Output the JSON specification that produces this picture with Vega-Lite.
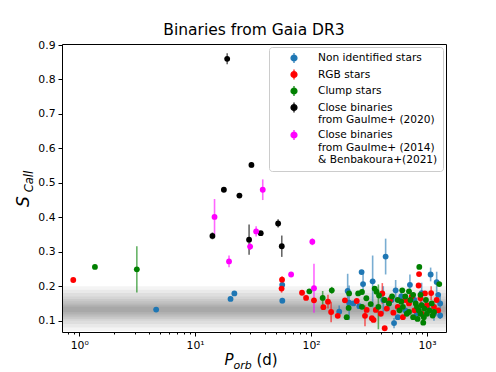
{
  "$schema": "https://vega.github.io/schema/vega-lite/v6.json",
  "width": 384,
  "height": 288,
  "autosize": {"type": "none"},
  "padding": {"left": 62, "top": 44, "right": 50, "bottom": 40},
  "background": "white",
  "title": {"text": "Binaries from Gaia DR3", "font": "DejaVu Sans", "fontSize": 15.5, "fontWeight": "normal", "color": "black", "offset": 1},
  "config": {
    "view": {"stroke": "black", "strokeWidth": 1},
    "font": "DejaVu Sans",
    "axis": {"labelFont": "DejaVu Sans", "titleFont": "DejaVu Sans", "labelColor": "black", "titleColor": "black", "tickColor": "black", "grid": false, "domain": false, "titleFontWeight": "normal"},
    "legend": {"title": null, "orient": "top-right", "offset": 3, "padding": 5, "fillColor": "white", "strokeColor": "#cccccc", "cornerRadius": 3,
      "labelFont": "DejaVu Sans", "labelFontSize": 10.6, "labelLineHeight": 13.5, "labelColor": "black", "labelLimit": 300, "rowPadding": 0.5,
      "symbolType": "M0,-1L0,1M-0.6,0A0.6,0.6,0,1,0,0.6,0A0.6,0.6,0,1,0,-0.6,0Z", "symbolSize": 100, "symbolOffset": 14, "labelOffset": 18, "symbolStrokeWidth": 1.2, "symbolOpacity": 1}
  },
  "datasets": {
    "bands": [
      {"lo": 0.07, "hi": 0.2}, {"lo": 0.08, "hi": 0.19}, {"lo": 0.09, "hi": 0.18}, {"lo": 0.1, "hi": 0.17},
      {"lo": 0.105, "hi": 0.163}, {"lo": 0.11, "hi": 0.156}, {"lo": 0.115, "hi": 0.15}, {"lo": 0.12, "hi": 0.145}, {"lo": 0.125, "hi": 0.14}
    ],
    "pts": [
      {"p": 4.61, "s": 0.132, "e": 0, "t": "N"},
      {"p": 21.8, "s": 0.179, "e": 0.006, "t": "N"},
      {"p": 20.2, "s": 0.163, "e": 0, "t": "N"},
      {"p": 56.4, "s": 0.204, "e": 0, "t": "N"},
      {"p": 56.5, "s": 0.158, "e": 0.008, "t": "N"},
      {"p": 175, "s": 0.126, "e": 0.018, "t": "N"},
      {"p": 207, "s": 0.186, "e": 0.05, "t": "N"},
      {"p": 213, "s": 0.152, "e": 0.05, "t": "N"},
      {"p": 232, "s": 0.15, "e": 0, "t": "N"},
      {"p": 273, "s": 0.241, "e": 0, "t": "N"},
      {"p": 281, "s": 0.206, "e": 0.03, "t": "N"},
      {"p": 261, "s": 0.142, "e": 0, "t": "N"},
      {"p": 340, "s": 0.214, "e": 0.075, "t": "N"},
      {"p": 440, "s": 0.286, "e": 0.052, "t": "N"},
      {"p": 1076, "s": 0.234, "e": 0.02, "t": "N"},
      {"p": 1213, "s": 0.212, "e": 0.03, "t": "N"},
      {"p": 713, "s": 0.204, "e": 0.03, "t": "N"},
      {"p": 537, "s": 0.188, "e": 0.03, "t": "N"},
      {"p": 520, "s": 0.093, "e": 0.015, "t": "N"},
      {"p": 470, "s": 0.15, "e": 0.02, "t": "N"},
      {"p": 600, "s": 0.17, "e": 0.02, "t": "N"},
      {"p": 650, "s": 0.13, "e": 0, "t": "N"},
      {"p": 780, "s": 0.16, "e": 0.015, "t": "N"},
      {"p": 900, "s": 0.18, "e": 0.03, "t": "N"},
      {"p": 1000, "s": 0.14, "e": 0, "t": "N"},
      {"p": 1150, "s": 0.12, "e": 0.02, "t": "N"},
      {"p": 1300, "s": 0.15, "e": 0.02, "t": "N"},
      {"p": 560, "s": 0.11, "e": 0, "t": "N"},
      {"p": 820, "s": 0.12, "e": 0, "t": "N"},
      {"p": 1250, "s": 0.175, "e": 0, "t": "N"},
      {"p": 1300, "s": 0.115, "e": 0.01, "t": "N"},
      {"p": 420, "s": 0.16, "e": 0.04, "t": "N"},
      {"p": 496, "s": 0.16, "e": 0, "t": "N"},
      {"p": 0.888, "s": 0.218, "e": 0, "t": "R"},
      {"p": 56.2, "s": 0.219, "e": 0.01, "t": "R"},
      {"p": 55.7, "s": 0.193, "e": 0.012, "t": "R"},
      {"p": 83.6, "s": 0.181, "e": 0, "t": "R"},
      {"p": 90.6, "s": 0.166, "e": 0, "t": "R"},
      {"p": 106, "s": 0.159, "e": 0, "t": "R"},
      {"p": 127.7, "s": 0.139, "e": 0, "t": "R"},
      {"p": 140, "s": 0.155, "e": 0.02, "t": "R"},
      {"p": 149, "s": 0.125, "e": 0.03, "t": "R"},
      {"p": 170, "s": 0.114, "e": 0, "t": "R"},
      {"p": 196, "s": 0.159, "e": 0, "t": "R"},
      {"p": 248, "s": 0.157, "e": 0, "t": "R"},
      {"p": 302, "s": 0.131, "e": 0, "t": "R"},
      {"p": 292, "s": 0.114, "e": 0.03, "t": "R"},
      {"p": 335, "s": 0.107, "e": 0, "t": "R"},
      {"p": 855, "s": 0.235, "e": 0, "t": "R"},
      {"p": 847, "s": 0.202, "e": 0, "t": "R"},
      {"p": 412, "s": 0.179, "e": 0.03, "t": "R"},
      {"p": 961, "s": 0.179, "e": 0, "t": "R"},
      {"p": 1087, "s": 0.18, "e": 0.02, "t": "R"},
      {"p": 1213, "s": 0.16, "e": 0, "t": "R"},
      {"p": 362, "s": 0.131, "e": 0, "t": "R"},
      {"p": 346, "s": 0.102, "e": 0, "t": "R"},
      {"p": 432, "s": 0.078, "e": 0, "t": "R"},
      {"p": 513, "s": 0.123, "e": 0, "t": "R"},
      {"p": 560, "s": 0.14, "e": 0, "t": "R"},
      {"p": 650, "s": 0.16, "e": 0, "t": "R"},
      {"p": 700, "s": 0.15, "e": 0, "t": "R"},
      {"p": 780, "s": 0.13, "e": 0, "t": "R"},
      {"p": 900, "s": 0.12, "e": 0, "t": "R"},
      {"p": 1000, "s": 0.145, "e": 0, "t": "R"},
      {"p": 1150, "s": 0.14, "e": 0, "t": "R"},
      {"p": 620, "s": 0.11, "e": 0, "t": "R"},
      {"p": 480, "s": 0.16, "e": 0, "t": "R"},
      {"p": 740, "s": 0.17, "e": 0, "t": "R"},
      {"p": 1250, "s": 0.13, "e": 0, "t": "R"},
      {"p": 450, "s": 0.135, "e": 0, "t": "R"},
      {"p": 400, "s": 0.12, "e": 0, "t": "R"},
      {"p": 880, "s": 0.165, "e": 0.02, "t": "R"},
      {"p": 1.366, "s": 0.256, "e": 0, "t": "C"},
      {"p": 3.14, "s": 0.249, "e": 0.067, "t": "C"},
      {"p": 96.7, "s": 0.185, "e": 0, "t": "C"},
      {"p": 126, "s": 0.166, "e": 0.02, "t": "C"},
      {"p": 151, "s": 0.188, "e": 0.01, "t": "C"},
      {"p": 203, "s": 0.11, "e": 0, "t": "C"},
      {"p": 213, "s": 0.179, "e": 0, "t": "C"},
      {"p": 211, "s": 0.137, "e": 0, "t": "C"},
      {"p": 255, "s": 0.179, "e": 0, "t": "C"},
      {"p": 275, "s": 0.183, "e": 0, "t": "C"},
      {"p": 275, "s": 0.14, "e": 0, "t": "C"},
      {"p": 327, "s": 0.148, "e": 0, "t": "C"},
      {"p": 859, "s": 0.256, "e": 0, "t": "C"},
      {"p": 1277, "s": 0.206, "e": 0, "t": "C"},
      {"p": 354, "s": 0.193, "e": 0, "t": "C"},
      {"p": 367, "s": 0.184, "e": 0, "t": "C"},
      {"p": 386, "s": 0.173, "e": 0, "t": "C"},
      {"p": 612, "s": 0.188, "e": 0, "t": "C"},
      {"p": 929, "s": 0.094, "e": 0, "t": "C"},
      {"p": 381, "s": 0.14, "e": 0.065, "t": "C"},
      {"p": 650, "s": 0.17, "e": 0, "t": "C"},
      {"p": 700, "s": 0.185, "e": 0, "t": "C"},
      {"p": 720, "s": 0.16, "e": 0, "t": "C"},
      {"p": 760, "s": 0.175, "e": 0, "t": "C"},
      {"p": 800, "s": 0.15, "e": 0, "t": "C"},
      {"p": 820, "s": 0.14, "e": 0, "t": "C"},
      {"p": 850, "s": 0.13, "e": 0, "t": "C"},
      {"p": 880, "s": 0.12, "e": 0, "t": "C"},
      {"p": 900, "s": 0.145, "e": 0, "t": "C"},
      {"p": 950, "s": 0.135, "e": 0, "t": "C"},
      {"p": 980, "s": 0.16, "e": 0, "t": "C"},
      {"p": 1000, "s": 0.12, "e": 0, "t": "C"},
      {"p": 1050, "s": 0.13, "e": 0, "t": "C"},
      {"p": 1100, "s": 0.15, "e": 0, "t": "C"},
      {"p": 1150, "s": 0.125, "e": 0, "t": "C"},
      {"p": 560, "s": 0.16, "e": 0, "t": "C"},
      {"p": 580, "s": 0.13, "e": 0, "t": "C"},
      {"p": 620, "s": 0.14, "e": 0, "t": "C"},
      {"p": 670, "s": 0.12, "e": 0, "t": "C"},
      {"p": 760, "s": 0.11, "e": 0, "t": "C"},
      {"p": 830, "s": 0.105, "e": 0, "t": "C"},
      {"p": 700, "s": 0.125, "e": 0, "t": "C"},
      {"p": 940, "s": 0.11, "e": 0, "t": "C"},
      {"p": 470, "s": 0.15, "e": 0, "t": "C"},
      {"p": 500, "s": 0.17, "e": 0, "t": "C"},
      {"p": 430, "s": 0.16, "e": 0, "t": "C"},
      {"p": 880, "s": 0.175, "e": 0, "t": "C"},
      {"p": 1120, "s": 0.115, "e": 0, "t": "C"},
      {"p": 600, "s": 0.155, "e": 0, "t": "C"},
      {"p": 300, "s": 0.165, "e": 0, "t": "C"},
      {"p": 18.9, "s": 0.86, "e": 0.016, "t": "B"},
      {"p": 30.6, "s": 0.552, "e": 0.008, "t": "B"},
      {"p": 17.7, "s": 0.48, "e": 0.006, "t": "B"},
      {"p": 24.1, "s": 0.463, "e": 0.006, "t": "B"},
      {"p": 52.0, "s": 0.382, "e": 0.012, "t": "B"},
      {"p": 14.1, "s": 0.346, "e": 0.01, "t": "B"},
      {"p": 36.8, "s": 0.354, "e": 0.006, "t": "B"},
      {"p": 29.2, "s": 0.335, "e": 0.044, "t": "B"},
      {"p": 55.9, "s": 0.316, "e": 0.031, "t": "B"},
      {"p": 38.3, "s": 0.48, "e": 0.03, "t": "M"},
      {"p": 14.7, "s": 0.401, "e": 0.052, "t": "M"},
      {"p": 33.6, "s": 0.359, "e": 0.015, "t": "M"},
      {"p": 29.8, "s": 0.315, "e": 0.01, "t": "M"},
      {"p": 19.6, "s": 0.272, "e": 0.017, "t": "M"},
      {"p": 67.3, "s": 0.234, "e": 0.005, "t": "M"},
      {"p": 102.6, "s": 0.329, "e": 0.01, "t": "M"},
      {"p": 106, "s": 0.194, "e": 0.071, "t": "M"}
    ]
  },
  "layer": [
    {
      "data": {"name": "bands"},
      "mark": {"type": "rect", "color": "black", "opacity": 0.045},
      "encoding": {
        "y": {"field": "lo", "type": "quantitative",
          "scale": {"domain": [0.067, 0.903], "nice": false, "zero": false},
          "axis": {"orient": "left", "values": [0.1, 0.2, 0.3, 0.4, 0.5, 0.6, 0.7, 0.8, 0.9], "format": ".1f", "labelFontSize": 10.8, "tickSize": 4, "labelPadding": 3,
            "title": "S", "titleFontSize": 17, "titleFontStyle": "italic", "titleAngle": 270, "titleAlign": "center", "titleBaseline": "alphabetic", "titleX": -34, "titleY": 157}},
        "y2": {"field": "hi"}
      }
    },
    {
      "data": {"name": "pts"},
      "transform": [{"filter": "datum.e > 0"}],
      "mark": {"type": "errorbar", "ticks": false, "rule": {"strokeWidth": 1.6, "opacity": 0.6}},
      "encoding": {
        "x": {"field": "p", "type": "quantitative", "scale": {"type": "log", "domain": [0.71, 1460], "nice": false},
          "axis": {"orient": "bottom", "labels": false, "ticks": false, "title": "orb", "titleFontSize": 11, "titleFontStyle": "italic", "titleAlign": "left", "titleBaseline": "alphabetic", "titleX": 171, "titleY": 36}},
        "y": {"field": "s", "type": "quantitative", "scale": {"domain": [0.067, 0.903], "nice": false, "zero": false},
          "axis": {"orient": "left", "labels": false, "ticks": false, "title": "Call", "titleFontSize": 11.5, "titleFontStyle": "italic", "titleAngle": 270, "titleAlign": "center", "titleBaseline": "alphabetic", "titleX": -30, "titleY": 137}},
        "yError": {"field": "e"},
        "color": {"field": "t", "type": "nominal", "scale": {"domain": ["N", "R", "C", "B", "M"], "range": ["#1f77b4", "#ff0000", "#008000", "#000000", "#ff00ff"]}}
      }
    },
    {
      "data": {"name": "pts"},
      "transform": [{"filter": {"field": "t", "oneOf": ["N", "R", "C"]}}],
      "mark": {"type": "circle", "size": 34, "opacity": 1},
      "encoding": {
        "x": {"field": "p", "type": "quantitative", "scale": {"type": "log", "domain": [0.71, 1460], "nice": false},
          "axis": {"orient": "bottom", "values": [0.8, 0.9, 1, 2, 3, 4, 5, 6, 7, 8, 9, 10, 20, 30, 40, 50, 60, 70, 80, 90, 100, 200, 300, 400, 500, 600, 700, 800, 900, 1000],
            "labelExpr": "datum.value == 1 ? '10⁰' : datum.value == 10 ? '10¹' : datum.value == 100 ? '10²' : datum.value == 1000 ? '10³' : ''",
            "labelOverlap": false, "labelFlush": false, "labelFontSize": 10.8, "labelPadding": 3,
            "tickSize": {"condition": {"test": "indexof([1, 10, 100, 1000], datum.value) >= 0", "value": 4}, "value": 2},
            "title": "P", "titleFontSize": 15, "titleFontStyle": "italic", "titleAlign": "left", "titleBaseline": "alphabetic", "titleX": 162, "titleY": 32}},
        "y": {"field": "s", "type": "quantitative", "scale": {"domain": [0.067, 0.903], "nice": false, "zero": false}, "axis": null},
        "color": {"field": "t", "type": "nominal",
          "scale": {"domain": ["N", "R", "C", "B", "M"], "range": ["#1f77b4", "#ff0000", "#008000", "#000000", "#ff00ff"]},
          "legend": {
            "labelExpr": "datum.label == 'N' ? 'Non identified stars' : datum.label == 'R' ? 'RGB stars' : datum.label == 'C' ? 'Clump stars' : datum.label == 'B' ? ['Close binaries', 'from Gaulme+ (2020)'] : ['Close binaries', 'from Gaulme+ (2014)', '& Benbakoura+(2021)']"}}
      }
    },
    {
      "data": {"name": "pts"},
      "transform": [{"filter": {"field": "t", "oneOf": ["B", "M"]}}],
      "mark": {"type": "circle", "size": 34, "opacity": 1},
      "encoding": {
        "x": {"field": "p", "type": "quantitative", "scale": {"type": "log", "domain": [0.71, 1460], "nice": false},
          "axis": {"orient": "bottom", "labels": false, "ticks": false, "title": "(d)", "titleFontSize": 15, "titleAlign": "left", "titleBaseline": "alphabetic", "titleX": 194, "titleY": 32}},
        "y": {"field": "s", "type": "quantitative", "scale": {"domain": [0.067, 0.903], "nice": false, "zero": false}, "axis": null},
        "color": {"field": "t", "type": "nominal", "scale": {"domain": ["N", "R", "C", "B", "M"], "range": ["#1f77b4", "#ff0000", "#008000", "#000000", "#ff00ff"]}}
      }
    }
  ],
  "resolve": {"axis": {"x": "independent", "y": "independent"}}
}
